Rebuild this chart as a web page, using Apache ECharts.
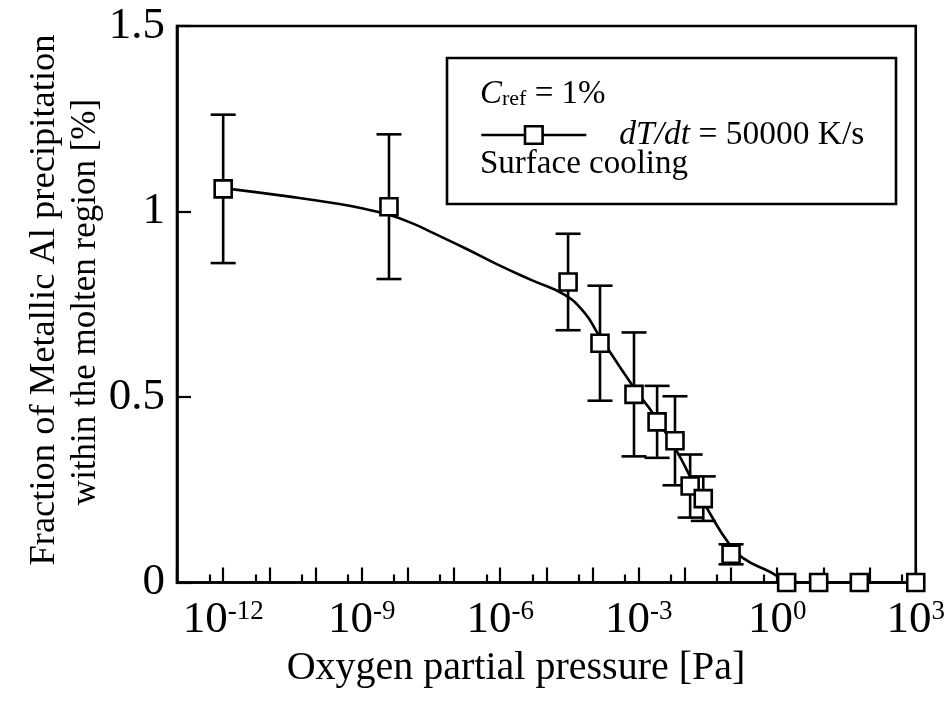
<!DOCTYPE html>
<html><head><meta charset="utf-8">
<script src="https://cdn.jsdelivr.net/npm/echarts@6/dist/echarts.min.js"></script>
<style>html,body{margin:0;padding:0;background:#fff}#c{width:948px;height:707px}</style>
</head><body><div id="c"></div>
<script>
// measured points (Oxygen partial pressure [Pa], fraction [%], ± error)
const pressure = [1e-12, 3.9e-9, 2.95e-5, 1.45e-4, 7.9e-4, 2.5e-3, 6.1e-3, 1.3e-2, 2.5e-2, 0.1, 1.6, 7.9, 60, 1000];
const fraction = [1.061, 1.013, 0.81, 0.645, 0.507, 0.433, 0.382, 0.26, 0.226, 0.076, 0, 0, 0, 0];
const errorBar = [0.2, 0.195, 0.13, 0.155, 0.167, 0.097, 0.12, 0.085, 0.06, 0.027, 0, 0, 0, 0];
// fitted curve
const fitPressure = [1e-12, 2.75e-11, 3.3e-10, 1.26e-9, 3.9e-9, 1.26e-8, 3.4e-8, 1.74e-7, 9.1e-7, 4.8e-6, 2.5e-5, 6.8e-5, 1.29e-4, 7.9e-4, 2.14e-3, 6.8e-3, 1.55e-2, 3.5e-2, 8.9e-2, 0.186, 0.69, 1.35, 4.3, 1000];
const fitFraction = [1.063, 1.040, 1.020, 1.006, 0.991, 0.968, 0.943, 0.901, 0.856, 0.815, 0.775, 0.726, 0.672, 0.525, 0.452, 0.352, 0.267, 0.186, 0.106, 0.065, 0.029, 0.011, 0, 0];
// axis ticks
const majorTicks = [1e-13, 1e-12, 1e-11, 1e-10, 1e-9, 1e-8, 1e-7, 1e-6, 1e-5, 1e-4, 1e-3, 1e-2, 1e-1, 1, 1e1, 1e2, 1e3];
const minorTicks = [5e-13, 5e-12, 5e-11, 5e-10, 5e-9, 5e-8, 5e-7, 5e-6, 5e-5, 5e-4, 5e-3, 5e-2, 5e-1, 5, 5e1, 5e2];
const xLabelTicks = [1e-12, 1e-9, 1e-6, 1e-3, 1, 1e3];
const yMin = 0, yMax = 1.5, yStep = 0.5;

const FONT = '"Liberation Serif", "Times New Roman", serif';
const chart = echarts.init(document.getElementById('c'), null, {renderer: 'canvas'});

const points = pressure.map((p, i) => [p, fraction[i]]);
const errData = pressure.map((p, i) => [p, fraction[i], errorBar[i]]);
const fitData = fitPressure.map((p, i) => [p, fitFraction[i]]);

const option = {
  animation: false,
  backgroundColor: '#fff',
  grid: {left: 177, top: 26, right: 28, bottom: 124.5, show: true, borderColor: '#000', borderWidth: 2.6, backgroundColor: 'transparent'},
  xAxis: [{
    type: 'log', logBase: 10, min: 1e-13, max: 1e3,
    axisLine: {show: true, lineStyle: {color: '#000', width: 2.6}},
    axisTick: {show: true, inside: true, length: 15, lineStyle: {color: '#000', width: 2.2}, customValues: majorTicks},
    axisLabel: {
      show: true, margin: 16, customValues: xLabelTicks,
      formatter: v => '{b|10}{s|' + Math.round(Math.log10(v)) + '}',
      rich: {
        b: {fontFamily: FONT, fontSize: 45, lineHeight: 44, color: '#000'},
        s: {fontFamily: FONT, fontSize: 27, lineHeight: 17, verticalAlign: 'top', color: '#000'}
      }
    },
    splitLine: {show: false}
  }, {
    type: 'log', logBase: 10, min: 1e-13, max: 1e3, position: 'bottom',
    axisLine: {show: false},
    axisTick: {show: true, inside: true, length: 8, lineStyle: {color: '#000', width: 2.2}, customValues: minorTicks},
    axisLabel: {show: false},
    splitLine: {show: false}
  }],
  yAxis: {
    type: 'value', min: yMin, max: yMax, interval: yStep,
    axisLine: {show: true, lineStyle: {color: '#000', width: 2.6}},
    axisTick: {show: true, inside: true, length: 14, lineStyle: {color: '#000', width: 2.2}},
    axisLabel: {margin: 12, fontFamily: FONT, fontSize: 45, color: '#000'},
    splitLine: {show: false}
  },
  legend: {
    show: true, left: 480, top: 118, padding: 0,
    itemWidth: 105, itemHeight: 22,
    data: ['dT/dt = 50000 K/s'],
    lineStyle: {color: '#000', width: 2.6},
    itemStyle: {color: '#fff', borderColor: '#000', borderWidth: 2.6},
    formatter: () => '{i|dT/dt}{n| = 50000 K/s}',
    textStyle: {
      padding: [0, 0, 0, 28],
      rich: {
        i: {fontFamily: FONT, fontSize: 33.5, fontStyle: 'italic', color: '#000'},
        n: {fontFamily: FONT, fontSize: 33.5, color: '#000'}
      }
    }
  },
  series: [
    {
      type: 'line', name: 'fit', data: fitData, smooth: 0.5,
      showSymbol: false, symbol: 'none', clip: false,
      lineStyle: {color: '#000', width: 2.6}, z: 2
    },
    {
      type: 'custom', name: 'error', data: errData, z: 3,
      renderItem: (params, api) => {
        const x = api.value(0), y = api.value(1), e = api.value(2);
        if (!(e > 0)) return null;
        const t = api.coord([x, y + e]);
        const b = api.coord([x, y - e]);
        const hw = 12.5;
        const st = {stroke: '#000', lineWidth: 2.6};
        return {type: 'group', children: [
          {type: 'line', shape: {x1: t[0], y1: t[1], x2: b[0], y2: b[1]}, style: st},
          {type: 'line', shape: {x1: t[0] - hw, y1: t[1], x2: t[0] + hw, y2: t[1]}, style: st},
          {type: 'line', shape: {x1: b[0] - hw, y1: b[1], x2: b[0] + hw, y2: b[1]}, style: st}
        ]};
      }
    },
    {
      type: 'scatter', name: 'points', data: points, symbol: 'rect', symbolSize: 17, clip: false,
      itemStyle: {color: '#fff', borderColor: '#000', borderWidth: 2.6, opacity: 1}, z: 4
    },
    {
      type: 'line', name: 'dT/dt = 50000 K/s', data: [], symbol: 'rect', symbolSize: 17,
      itemStyle: {color: '#fff', borderColor: '#000', borderWidth: 2.6},
      lineStyle: {color: '#000', width: 2.6}
    }
  ],
  graphic: [
    {type: 'rect', shape: {x: 447, y: 58, width: 449, height: 146}, style: {fill: 'transparent', stroke: '#000', lineWidth: 2.6}, z: 10},
    {type: 'text', x: 480, y: 94, z: 10, style: {
      text: '{c|C}{s|ref}{n| = 1%}', verticalAlign: 'middle', align: 'left',
      rich: {
        c: {fontFamily: FONT, fontSize: 33, lineHeight: 33, fontStyle: 'italic', fill: '#000'},
        s: {fontFamily: FONT, fontSize: 22, lineHeight: 12, verticalAlign: 'bottom', fill: '#000'},
        n: {fontFamily: FONT, fontSize: 33, lineHeight: 33, fill: '#000'}
      }}},
    {type: 'text', x: 480, y: 164, z: 10, style: {text: 'Surface cooling', font: '33px ' + FONT, fill: '#000', verticalAlign: 'middle', align: 'left'}},
    {type: 'text', x: 516, y: 668, style: {text: 'Oxygen partial pressure [Pa]', font: '40px ' + FONT, fill: '#000', align: 'center', verticalAlign: 'middle'}},
    {type: 'text', x: 44, y: 300, rotation: Math.PI / 2, style: {text: 'Fraction of Metallic Al precipitation', font: '36.5px ' + FONT, fill: '#000', align: 'center', verticalAlign: 'middle'}},
    {type: 'text', x: 86, y: 302, rotation: Math.PI / 2, style: {text: 'within the molten region [%]', font: '35px ' + FONT, fill: '#000', align: 'center', verticalAlign: 'middle'}}
  ]
};
chart.setOption(option);
</script></body></html>
